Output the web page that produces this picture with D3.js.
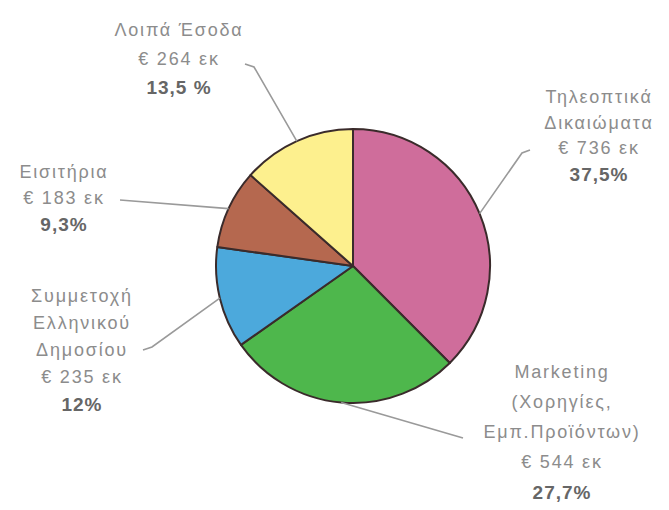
<!DOCTYPE html>
<html>
<head>
<meta charset="utf-8">
<title>pie</title>
<script src="https://d3js.org/d3.v7.min.js"></script>
<style>
  body { margin: 0; background: #fff; }
  text { font-family: "Liberation Sans", Arial, sans-serif; }
</style>
</head>
<body>
<svg width="669" height="510"></svg>
<script>
// data, clockwise from 12 o'clock
var categories = ["Τηλεοπτικά Δικαιώματα", "Marketing", "Συμμετοχή Ελληνικού Δημοσίου", "Εισιτήρια", "Λοιπά Έσοδα"];
var values = [736, 544, 235, 183, 264];
var percents = ["37,5%", "27,7%", "12%", "9,3%", "13,5 %"];
var nameLines = [
    ["Τηλεοπτικά", "Δικαιώματα"],
    ["Marketing", "(Χορηγίες,", "Εμπ.Προϊόντων)"],
    ["Συμμετοχή", "Ελληνικού", "Δημοσίου"],
    ["Εισιτήρια"],
    ["Λοιπά Έσοδα"]
];
var colors = ["#cf6d9b", "#4eb74c", "#4ca9dc", "#b5684f", "#fdf08e"];

// label layout: x centre, y of first line, line height, elbow points of the leader
var layout = [
    { x: 599, y: 103, lh: 25.5, elbow: [[522, 153], [530, 150]] },
    { x: 562, y: 378, lh: 30,   elbow: [[463, 438]] },
    { x: 82,  y: 302, lh: 27,   elbow: [[152, 347], [143, 350]] },
    { x: 64,  y: 178, lh: 26,   elbow: [[120, 200]] },
    { x: 179, y: 36,  lh: 28.5, elbow: [[254, 67], [245, 64]] }
];

var svg = d3.select("svg");
var cx = 353, cy = 266, r = 137;

var pie = d3.pie().sort(null).value(function(d) { return d; });
var arc = d3.arc().innerRadius(0).outerRadius(r);
var arcs = pie(values);

var g = svg.append("g").attr("transform", "translate(" + cx + "," + cy + ")");

g.selectAll("path.slice")
    .data(arcs)
    .enter()
    .append("path")
    .attr("class", "slice")
    .attr("d", arc)
    .attr("fill", function(d, i) { return colors[i]; })
    .attr("stroke", "#3a2b2b")
    .attr("stroke-width", 2)
    .attr("stroke-linejoin", "round");

// leader lines from the middle of each slice's rim
arcs.forEach(function(d, i) {
    var a = (d.startAngle + d.endAngle) / 2;
    var pts = [[cx + r * Math.sin(a), cy - r * Math.cos(a)]].concat(layout[i].elbow);
    svg.append("path")
        .attr("d", d3.line()(pts))
        .attr("fill", "none")
        .attr("stroke", "#9a9a9a")
        .attr("stroke-width", 1.6);
});

// labels
arcs.forEach(function(d, i) {
    var L = layout[i];
    var lines = nameLines[i].concat(["€ " + values[i] + " εκ"]);
    var t = svg.append("text")
        .attr("text-anchor", "middle")
        .attr("font-size", 18)
        .attr("letter-spacing", 1.8)
        .attr("fill", "#8c8c8c");
    lines.forEach(function(s, k) {
        t.append("tspan")
            .attr("x", L.x)
            .attr("y", L.y + k * L.lh)
            .text(s);
    });
    t.append("tspan")
        .attr("x", L.x)
        .attr("y", L.y + lines.length * L.lh + 1)
        .attr("font-weight", "bold")
        .attr("font-size", 19)
        .attr("letter-spacing", 1)
        .attr("fill", "#666")
        .text(percents[i]);
});
</script>
</body>
</html>
